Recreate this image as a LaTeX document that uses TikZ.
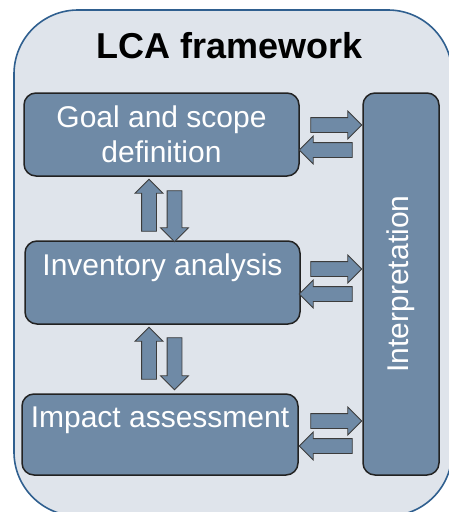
\documentclass[tikz,border=0pt]{standalone}
\usepackage{fontspec}
\setmainfont{Liberation Sans}
\usetikzlibrary{shapes.arrows}

\definecolor{framefill}{HTML}{DFE4EB}
\definecolor{frameline}{HTML}{2F5F8F}
\definecolor{stepfill}{HTML}{6F8AA6}
\definecolor{stepline}{HTML}{222222}
\definecolor{arrline}{HTML}{3C3C3C}

\begin{document}
\begin{tikzpicture}[x=1pt,y=-1pt,every node/.style={inner sep=0pt}]
\tikzstyle{frame} = [draw=frameline, fill=framefill, line width=1.6pt, rounded corners=64pt]
\tikzstyle{stepbox} = [draw=stepline, fill=stepfill, line width=1.5pt, rounded corners=12pt,
  text=white, align=center, font=\fontsize{30}{35}\selectfont]
\tikzstyle{fat} = [single arrow, draw=arrline, fill=stepfill, line width=0.8pt,
  inner xsep=0pt, inner ysep=7pt, single arrow head extend=6.5pt, single arrow head indent=0pt]
\useasboundingbox (0,0) rectangle (449,512);

\node[frame, minimum width=438pt, minimum height=506pt] (lca) at (233,263) {};
\node[anchor=base, font=\fontsize{36}{40}\selectfont\bfseries] (title) at (230,58) {LCA framework};

\node[stepbox, minimum width=275pt, minimum height=83pt] (goal) at (161.5,134.5) {Goal and scope\\definition};
\node[stepbox, minimum width=275pt, minimum height=83pt] (inv) at (162.5,282.5) {Inventory analysis\\\mbox{}};
\node[stepbox, minimum width=276pt, minimum height=81pt] (imp) at (160,434.5) {Impact assessment\\\mbox{}};
\node[stepbox, rotate=90, minimum width=382pt, minimum height=76pt] (interp) at (401,284) {Interpretation};

% goal <-> interpretation
\node[fat, minimum height=51pt] (goal-r) at (332.5,125) {};
\node[fat, rotate=180, minimum height=53pt] (goal-l) at (329.5,150) {};
% inventory <-> interpretation
\node[fat, minimum height=51pt] (inv-r) at (332.5,269) {};
\node[fat, rotate=180, minimum height=53pt] (inv-l) at (329.5,294) {};
% impact <-> interpretation
\node[fat, minimum height=51pt] (imp-r) at (332.5,421) {};
\node[fat, rotate=180, minimum height=53pt] (imp-l) at (329.5,446) {};

% goal <-> inventory
\node[fat, rotate=90, minimum height=52pt] (goal-u) at (149,209) {};
\node[fat, rotate=-90, minimum height=51pt] (goal-d) at (174.5,212.5) {};
% inventory <-> impact
\node[fat, rotate=90, minimum height=52pt] (inv-u) at (149,357) {};
\node[fat, rotate=-90, minimum height=52pt] (inv-d) at (174.5,360) {};
\end{tikzpicture}
\end{document}
